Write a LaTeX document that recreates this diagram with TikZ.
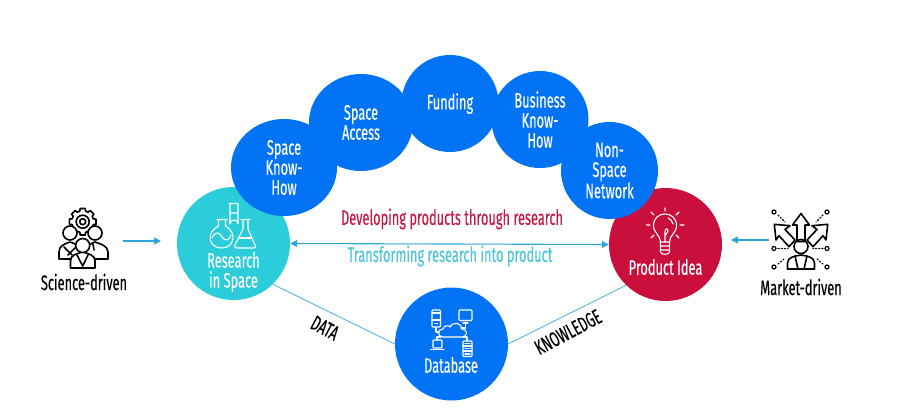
\documentclass[tikz,border=0pt]{standalone}
\usepackage{fontspec}
\setmainfont[FakeStretch=0.61,FakeBold=0.25]{Fira Sans}
\usetikzlibrary{shapes.geometric,arrows.meta}
\definecolor{cblue}{HTML}{0373F6}
\definecolor{cteal}{HTML}{2BCDDB}
\definecolor{cred}{HTML}{CB0F3C}
\definecolor{carrow}{HTML}{2FA5D9}
\definecolor{cline}{HTML}{55B8DC}
\definecolor{cdev}{HTML}{C21B47}
\definecolor{ctrans}{HTML}{4FC7D9}
\tikzset{
  x=1pt,y=-1pt,
  bub/.style={ellipse,fill=#1,draw=none,inner sep=0pt,text=white,align=center,font=\fontsize{21}{20}\selectfont},
  smallbub/.style={bub=cblue,minimum width=97pt,minimum height=97pt},
  bigbub/.style={bub=#1,minimum width=113pt,minimum height=113pt},
  lab/.style={text=white,inner sep=0pt,align=center,font=\fontsize{21}{20}\selectfont},
  blab/.style={text=black,inner sep=0pt,align=center,font=\fontsize{21}{20}\selectfont},
  flow/.style={draw=carrow,line width=1.1pt,-{Triangle[length=7pt,width=7pt]}},
  flowb/.style={draw=carrow,line width=1.1pt,{Triangle[length=7pt,width=7pt]}-{Triangle[length=7pt,width=7pt]}},
  link/.style={draw=cline,line width=.9pt},
  iw/.style={draw=white,line width=1.1pt,line join=round,line cap=round},
  ik/.style={draw=black,line width=1.6pt,line join=round,line cap=round},
  ikw/.style={ik,fill=white},
}
\begin{document}
\begin{tikzpicture}
\useasboundingbox (0,0) rectangle (904,418);
\fill[white] (0,0) rectangle (904,418);
% big circles
\node[bigbub=cteal] (research) at (233.5,243.5) {};
\node[bigbub=cred] (product) at (665.5,244.5) {};
\node[bigbub=cblue] (database) at (451.5,344) {};
% blue arc
\node[smallbub] (funding) at (450,103.5) {\raisebox{1pt}{Funding}};
\node[smallbub,minimum width=106pt] (knowhow) at (284,167.5) {Space\\Know-\\How};
\node[smallbub,minimum width=104pt] (access) at (361,122.5) {Space\\Access};
\node[smallbub] (business) at (540,119.5) {Business\\Know-\\How};
\node[smallbub] (network) at (609.5,170.5) {Non-\\Space\\Network};
% links
\draw[link] (research.-46.5) -- (database.west);
\draw[link] (database.east) -- (product.226.5);
\draw[flowb] (research.east) -- (product.west);
\coordinate (scifrom) at (123,241);
\coordinate (scito) at (161,241);
\coordinate (mktfrom) at (769,240);
\coordinate (mktto) at (731,240);
\draw[flow] (scifrom) -- (scito);
\draw[flow] (mktfrom) -- (mktto);
% labels
\node[lab] (researchl) at (233.5,272) {Research\\in Space};
\node[lab] (productl) at (665.5,267) {Product Idea};
\node[lab] (databasel) at (451,365) {Database};
\node[blab] (science) at (84,282) {Science-driven};
\node[blab] (market) at (801,287) {Market-driven};
\node[lab,text=cdev] (dev) at (452,219) {Developing products through research};
\node[lab,text=ctrans] (trans) at (450,256) {Transforming research into product};
\node[blab,rotate=-28] (data) at (325,328) {DATA};
\node[blab,rotate=28] (know) at (568,332) {KNOWLEDGE};
% science icon
\begin{scope}[ik]
\begin{scope}[shift={(82.7,221.7)}]
\draw[ikw] (-11:13.5) \foreach \a in {0,45,...,315}{ -- ({\a-11}:13.5) -- ({\a+11}:13.5) -- ({\a+15}:11) -- ({\a+30}:11) -- ({\a+34}:13.5)} -- cycle;
\draw (0,0) circle[radius=6.5];
\draw (0,0) circle[radius=3];
\end{scope}
\draw[ikw] (59,259) -- (59,252) .. controls (59,246) and (64,244) .. (70,242) .. controls (76,244) and (81,246) .. (81,252) -- (81,259) -- cycle;
\draw[ikw] (85,259) -- (85,252) .. controls (85,246) and (90,244) .. (95,242) .. controls (101,244) and (108,246) .. (108,252) -- (108,259) -- cycle;
\draw[ikw] (70,233) circle[radius=7];
\draw[ikw] (95,233) circle[radius=7];
\draw (64,247) -- (72,255) (76,247) -- (68,255);
\draw (93,244) -- (94,250);
\draw[ikw] (70.5,268) -- (70.5,261) .. controls (70.5,255) and (76,254) .. (82.7,252) .. controls (89,254) and (95,255) .. (95,261) -- (95,268) -- cycle;
\draw (77,255) -- (82.7,266) -- (88,255);
\draw[ikw] (82.7,245.5) circle[radius=7];
\end{scope}
% flask icon
\begin{scope}[iw]
\draw (229,203.5) -- (238,203.5) (230,203.5) -- (230,224) arc[start angle=180,end angle=360,x radius=4,y radius=4] -- (238,203.5)(230,213) -- (238,213);
\draw (217,219.5) -- (227,219.5) (218.5,219.5) -- (218.5,226) .. controls (206,232) and (208,248) .. (221.5,248) .. controls (235,248) and (237,232) .. (225.5,226) -- (225.5,219.5);
\draw (212,238) .. controls (216,230) and (220,233) .. (222,237) .. controls (225,242) and (230,240) .. (231,235);
\draw (241,219.5) -- (250,219.5) (243,219.5) -- (243,229) -- (235,245) .. controls (234,247) and (235,248) .. (237,248) -- (254,248) .. controls (256,248) and (256,246) .. (255,245) -- (248,229) -- (248,219.5);
\draw (239.5,238) -- (251,238);
\end{scope}
% bulb icon
\begin{scope}[iw]
\draw (660.5,242) .. controls (660.5,235) and (653.5,233) .. (653.5,225.5) .. controls (653.5,218) and (659,214) .. (665,214) .. controls (671,214) and (676.5,218) .. (676.5,225.5) .. controls (676.5,233) and (669.5,235) .. (669.5,242) -- cycle;
\draw (660.5,242) -- (660.5,252) .. controls (660.5,255) and (669.5,255) .. (669.5,252) -- (669.5,242) (660.5,246) -- (669.5,246) (660.5,250) -- (669.5,250);
\draw (665,208) -- (665,211) (651,212) -- (654,215) (679,212) -- (676,215) (646.5,225) -- (650,225) (680,225) -- (684,225) (651,238) -- (654,235) (679,238) -- (676,235);
\draw (665,242) -- (665,232) .. controls (665,228) and (668,228) .. (668,231) .. controls (668,234) and (665,234) .. (665,236);
\draw (668,218) .. controls (671,219) and (672,221) .. (673,224);
\end{scope}
% market icon
\begin{scope}[ik]
\draw (801,213.5) -- (809.5,225) -- (805,225) -- (805,241.5) -- (797,241.5) -- (797,225) -- (792.5,225) -- cycle;
\draw (774.3,224.3) -- (790,225.7) -- (785,229.5) -- (795,240) -- (789,246.7) -- (779,235.7) -- (776,240) -- cycle;
\draw (827.7,224.3) -- (812,225.7) -- (817,229.5) -- (807,240) -- (813,246.7) -- (823,235.7) -- (826,240) -- cycle;
\draw (801,246.5) circle[radius=7];
\draw (787.5,269) -- (787.5,263) .. controls (787.5,257) and (795,256) .. (801,255) .. controls (807,256) and (814.5,257) .. (814.5,263) -- (814.5,269) -- cycle;
\draw (795,256) -- (798,269) (807,256) -- (804,269);
\foreach \x/\y in {774/212,827/212,774/248.5,827/248.5,774/267,827/267} \draw[line width=1.2pt] (\x,\y) circle[radius=2];
\draw[dotted,line width=1.2pt] (778,215) -- (785,222) (823,215) -- (816,222) (778,248.5) -- (788,248.5) (823,248.5) -- (813,248.5) (778,264) -- (784,259) (823,264) -- (817,259);
\end{scope}
% database icon
\begin{scope}[iw]
\draw[rounded corners=.8pt] (432,310) rectangle (440.5,327);
\draw (432,320) -- (440.5,320) (435,323.5) -- (437.5,323.5) (432,313) -- (440.5,313);
\draw[rounded corners=.8pt] (459,310) rectangle (472,320.5);
\draw (463,323) -- (468,323) (465.5,320.5) -- (465.5,323);
\draw (465.5,323) -- (465.5,328) -- (461,328);
\draw (443,337) .. controls (437,337) and (437,329) .. (443,329) .. controls (444,325) and (449,325) .. (450,327) .. controls (453,321) and (462,323) .. (462,329) .. controls (468,329) and (468,337) .. (462,337) -- cycle;
\draw (436,327) -- (436,332) -- (439,332);
\draw[rounded corners=.8pt] (433,340) rectangle (442,348);
\draw (430.5,349.5) -- (444,349.5) (437,340) -- (437,337) -- (441,337);
\draw[rounded corners=.8pt] (463,341) rectangle (472,356.5);
\draw (463,346) -- (472,346) (463,351) -- (472,351) (465,343.5) -- (470,343.5) (465,348.5) -- (470,348.5) (465,354) -- (470,354) (467,341) -- (467,337) -- (463,337);
\end{scope}
\end{tikzpicture}
\end{document}
